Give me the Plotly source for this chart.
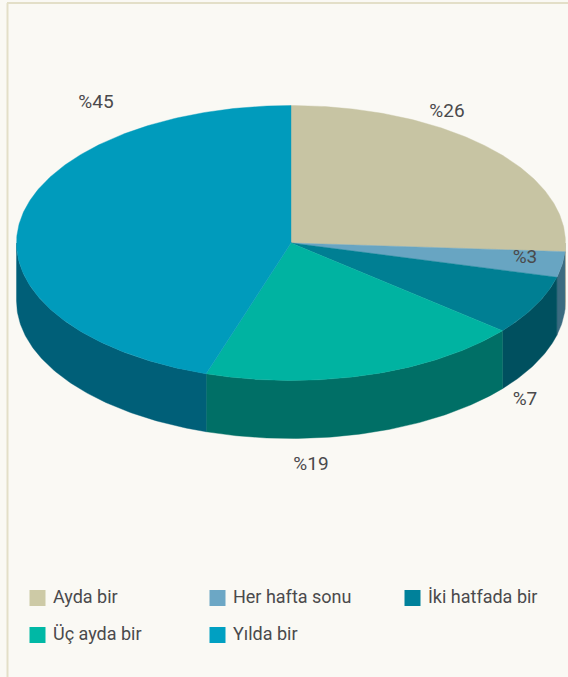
import math
import plotly.graph_objects as go

CATEGORIES = ["Ayda bir", "Her hafta sonu", "İki hatfada bir", "Üç ayda bir", "Yılda bir"]
VALUES = [26, 3, 7, 19, 45]
LABELS = ["%26", "%3", "%7", "%19", "%45"]
TOP_COLORS = ["#c7c4a3", "#68a5c2", "#007f93", "#00b3a1", "#009bbc"]
SIDE_COLORS = ["#a8a68a", "#3b6b80", "#00505f", "#006f66", "#005f78"]
LEGEND_COLORS = ["#cdcaa6", "#6ca7c5", "#00819a", "#00b8a5", "#00a0c2"]
LABEL_X = [447, 525, 525, 311, 96]
LABEL_Y = [112, 258, 400, 465, 103]
LEGEND_X = [37.5, 217.5, 412.5, 37.5, 217.5]
LEGEND_Y = [598, 598, 598, 635, 635]

CX, CY, RX, RY, DEPTH = 291, 243, 274.5, 137.5, 58
TEXT = "#4a4a4c"
FONT = "Roboto"


def ell(a, dy=0.0):
    return CX + RX * math.sin(a), CY - RY * math.cos(a) + dy


def arc(a0, a1, dy=0.0):
    n = max(2, int(abs(a1 - a0) * 80))
    return [ell(a0 + (a1 - a0) * i / n, dy) for i in range(n + 1)]


def poly(points, color, name):
    return go.Scatter(
        x=[p[0] for p in points] + [points[0][0]],
        y=[p[1] for p in points] + [points[0][1]],
        mode="lines", fill="toself", fillcolor=color,
        line=dict(width=0.4, color=color), hoverinfo="text", text=name, showlegend=False,
    )


total = sum(VALUES)
edges = [0.0]
for v in VALUES:
    edges.append(edges[-1] + v / total * 2 * math.pi)

fig = go.Figure()
for i, name in enumerate(CATEGORIES):
    lo, hi = max(edges[i], math.pi / 2), min(edges[i + 1], 3 * math.pi / 2)
    if hi > lo:
        fig.add_trace(poly(arc(lo, hi) + arc(hi, lo, DEPTH), SIDE_COLORS[i], name))
for i, name in enumerate(CATEGORIES):
    fig.add_trace(poly([(CX, CY)] + arc(edges[i], edges[i + 1]), TOP_COLORS[i], name))

fig.add_trace(go.Scatter(
    x=LABEL_X, y=LABEL_Y, text=LABELS, mode="text", textposition="middle center",
    textfont=dict(family=FONT, size=19, color=TEXT), hoverinfo="skip", showlegend=False,
))
for i, name in enumerate(CATEGORIES):
    fig.add_trace(go.Scatter(
        x=[LEGEND_X[i]], y=[LEGEND_Y[i]], text=[" " + name], mode="markers+text",
        textposition="middle right",
        marker=dict(symbol="square", size=16, color=LEGEND_COLORS[i], line=dict(width=0)),
        textfont=dict(family=FONT, size=18, color=TEXT), hoverinfo="skip", showlegend=False,
    ))

fig.update_xaxes(range=[0, 568], visible=False, fixedrange=True)
fig.update_yaxes(range=[677, 0], visible=False, fixedrange=True)
fig.update_layout(
    width=568, height=677, margin=dict(l=0, r=0, t=0, b=0),
    paper_bgcolor="#faf9f4", plot_bgcolor="#faf9f4", showlegend=False,
    shapes=[
        dict(type="line", xref="x", yref="y", x0=7.5, x1=7.5, y0=3, y1=677, line=dict(color="#e3dfc8", width=2), layer="below"),
        dict(type="line", xref="x", yref="y", x0=7, x1=568, y0=3, y1=3, line=dict(color="#e3dfc8", width=2), layer="below"),
    ],
)
fig.write_html("out.html", config={"displayModeBar": False},
               post_script="document.body.style.margin='0';document.body.style.background='#faf9f4';document.body.style.overflow='hidden';")
